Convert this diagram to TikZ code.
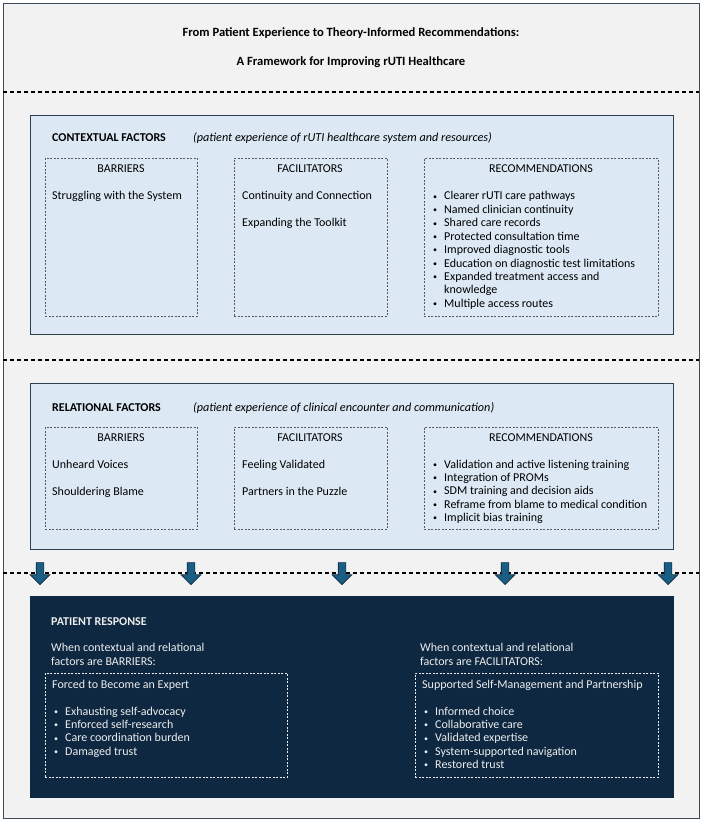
\documentclass[tikz,border=0pt]{standalone}
\usepackage{fontspec}
\setmainfont{Carlito}
\usetikzlibrary{shapes.arrows}

\definecolor{pagegray}{HTML}{F2F2F2}
\definecolor{framegray}{HTML}{3E4A55}
\definecolor{boxblue}{HTML}{DCE9F5}
\definecolor{boxline}{HTML}{2E3F50}
\definecolor{navy}{HTML}{0E2841}
\definecolor{arrowblue}{HTML}{1B5E84}
\definecolor{softwhite}{HTML}{EDEDED}

\newcommand{\recbullet}{\makebox[11pt][l]{\raisebox{0.8pt}{\fontsize{8}{8}\selectfont\textbullet}}}
\newcommand{\recskip}{\hspace*{11pt}}
\newcommand{\linestack}[1]{\begin{tabular}[t]{@{}l@{}}#1\end{tabular}}

\begin{document}
\begin{tikzpicture}[x=1pt, y=-1pt,
    txt/.style={anchor=base west, inner sep=0pt, font=\fontsize{12}{13.4}\selectfont},
    head/.style={anchor=base, inner sep=0pt, font=\fontsize{12}{13.4}\selectfont},
    bluebox/.style={draw=boxline, line width=1.3pt, fill=boxblue, anchor=north west, inner sep=0pt},
    subbox/.style={draw=black!65, dash pattern=on 2pt off 1.5pt, line width=0.6pt, anchor=north west, inner sep=0pt},
    downarrow/.style={single arrow, draw=navy, fill=arrowblue, line width=0.6pt, rotate=-90,
        inner sep=3.5pt, single arrow head extend=6pt, single arrow head indent=0pt,
        minimum height=22pt, anchor=tip},
    sep/.style={dash pattern=on 4pt off 3pt, line width=1.2pt}]

    % page and frame
    \useasboundingbox (0,0) rectangle (702,821);
    \node [draw=framegray, line width=1pt, fill=pagegray, anchor=north west, minimum width=696pt, minimum height=815pt, inner sep=0pt] (frame) at (3,3) {};

    % title
    \node [anchor=base, inner sep=0pt, font=\fontsize{12.6}{14}\selectfont\bfseries] (title1) at (351,37) {From Patient Experience to Theory-Informed Recommendations:};
    \node [anchor=base, inner sep=0pt, font=\fontsize{12.6}{14}\selectfont\bfseries] (title2) at (351,66) {A Framework for Improving rUTI Healthcare};

    % separators
    \coordinate (s1l) at (3,92);  \coordinate (s1r) at (699,92);
    \coordinate (s2l) at (3,360); \coordinate (s2r) at (699,360);
    \coordinate (s3l) at (3,573); \coordinate (s3r) at (699,573);
    \draw [sep] (s1l) -- (s1r);
    \draw [sep] (s2l) -- (s2r);
    \draw [sep] (s3l) -- (s3r);

    % contextual factors
    \node [bluebox, minimum width=643pt, minimum height=219pt] (ctx) at (30,115) {};
    \node [txt, font=\fontsize{12}{13.4}\selectfont\bfseries] (ctxtitle) at (52,142) {CONTEXTUAL FACTORS};
    \node [txt, font=\fontsize{12.2}{13.4}\selectfont\itshape] (ctxnote) at (193,142) {(patient experience of rUTI healthcare system and resources)};

    \node [subbox, minimum width=152pt, minimum height=158pt] (ctxbar) at (45,158) {};
    \node [subbox, minimum width=153pt, minimum height=158pt] (ctxfac) at (234,158) {};
    \node [subbox, minimum width=234pt, minimum height=158pt] (ctxrec) at (424,158) {};
    \node [head] (ctxbarh) at (121,172) {BARRIERS};
    \node [head] (ctxfach) at (310,172) {FACILITATORS};
    \node [head] (ctxrech) at (541,172) {RECOMMENDATIONS};

    \node [txt] (ctxbar1) at (52,200) {Struggling with the System};
    \node [txt] (ctxfac1) at (242,200) {Continuity and Connection};
    \node [txt] (ctxfac2) at (242,226) {Expanding the Toolkit};
    \node [txt] (ctxlist) at (433,200) {\linestack{\recbullet Clearer rUTI care pathways\\
        \recbullet Named clinician continuity\\
        \recbullet Shared care records\\
        \recbullet Protected consultation time\\
        \recbullet Improved diagnostic tools\\
        \recbullet Education on diagnostic test limitations\\
        \recbullet Expanded treatment access and\\
        \recskip knowledge\\
        \recbullet Multiple access routes}};

    % relational factors
    \node [bluebox, minimum width=643pt, minimum height=166pt] (rel) at (30,383) {};
    \node [txt, font=\fontsize{12}{13.4}\selectfont\bfseries] (reltitle) at (52,411) {RELATIONAL FACTORS};
    \node [txt, font=\fontsize{12.2}{13.4}\selectfont\itshape] (relnote) at (193,411) {(patient experience of clinical encounter and communication)};

    \node [subbox, minimum width=152pt, minimum height=102pt] (relbar) at (45,427) {};
    \node [subbox, minimum width=153pt, minimum height=102pt] (relfac) at (234,427) {};
    \node [subbox, minimum width=234pt, minimum height=102pt] (relrec) at (424,427) {};
    \node [head] (relbarh) at (121,441) {BARRIERS};
    \node [head] (relfach) at (310,441) {FACILITATORS};
    \node [head] (relrech) at (541,441) {RECOMMENDATIONS};

    \node [txt] (relbar1) at (52,468) {Unheard Voices};
    \node [txt] (relbar2) at (52,495) {Shouldering Blame};
    \node [txt] (relfac1) at (242,468) {Feeling Validated};
    \node [txt] (relfac2) at (242,495) {Partners in the Puzzle};
    \node [txt] (rellist) at (433,468) {\linestack{\recbullet Validation and active listening training\\
        \recbullet Integration of PROMs\\
        \recbullet SDM training and decision aids\\
        \recbullet Reframe from blame to medical condition\\
        \recbullet Implicit bias training}};

    % arrows down to the patient response
    \foreach \ax [count=\i] in {40,191,342,505,668}
        \node [downarrow] (arr\i) at (\ax,585) {};

    % patient response
    \node [draw=navy, fill=navy, anchor=north west, minimum width=643pt, minimum height=201pt, inner sep=0pt] (resp) at (30,596) {};
    \node [txt, text=softwhite, font=\fontsize{12}{13.4}\selectfont\bfseries] (resptitle) at (51,625) {PATIENT RESPONSE};

    \node [txt, text=softwhite, font=\fontsize{12}{14}\selectfont] (respbarnote) at (51,651) {\linestack{When contextual and relational\\ factors are BARRIERS:}};
    \node [txt, text=softwhite, font=\fontsize{12}{14}\selectfont] (respfacnote) at (420,651) {\linestack{When contextual and relational\\ factors are FACILITATORS:}};

    \node [subbox, draw=softwhite, minimum width=242pt, minimum height=104pt] (respbar) at (45,673) {};
    \node [subbox, draw=softwhite, minimum width=243pt, minimum height=104pt] (respfac) at (415,673) {};

    \node [txt, text=softwhite] (respbarh) at (52,688) {Forced to Become an Expert};
    \node [txt, text=softwhite] (respfach) at (422,688) {Supported Self-Management and Partnership};
    \node [txt, text=softwhite] (respbarlist) at (54,715) {\linestack{\recbullet Exhausting self-advocacy\\
        \recbullet Enforced self-research\\
        \recbullet Care coordination burden\\
        \recbullet Damaged trust}};
    \node [txt, text=softwhite] (respfaclist) at (424,715) {\linestack{\recbullet Informed choice\\
        \recbullet Collaborative care\\
        \recbullet Validated expertise\\
        \recbullet System-supported navigation\\
        \recbullet Restored trust}};
\end{tikzpicture}
\end{document}
